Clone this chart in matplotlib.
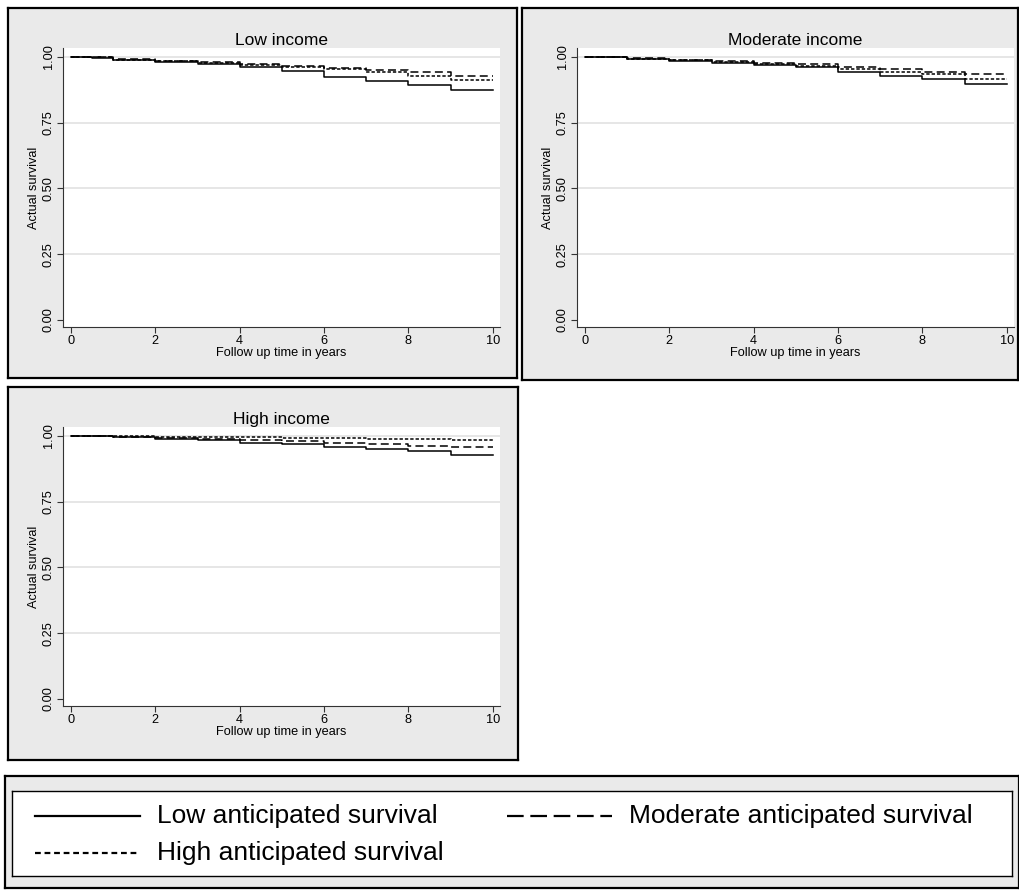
import matplotlib
matplotlib.use("Agg")
import matplotlib.pyplot as plt

plt.rcParams['font.family'] = ['Liberation Sans', 'DejaVu Sans']

W, H = 1019, 892

# follow up times (years) where the survival curves step
times = [0, 0.5, 1, 2, 3, 4, 5, 6, 7, 8, 9, 10]

# Kaplan-Meier estimates per interval
low_inc_low = [1.000, 0.997, 0.988, 0.982, 0.972, 0.960, 0.947, 0.925, 0.910, 0.892, 0.873]
low_inc_mod = [1.000, 0.998, 0.992, 0.986, 0.980, 0.972, 0.965, 0.958, 0.949, 0.942, 0.929]
low_inc_high = [1.000, 0.998, 0.990, 0.984, 0.978, 0.970, 0.962, 0.953, 0.944, 0.928, 0.912]

mod_inc_low = [1.000, 0.998, 0.993, 0.986, 0.978, 0.970, 0.960, 0.944, 0.928, 0.917, 0.896]
mod_inc_mod = [1.000, 0.999, 0.995, 0.989, 0.984, 0.978, 0.972, 0.962, 0.953, 0.944, 0.935]
mod_inc_high = [1.000, 0.999, 0.994, 0.988, 0.982, 0.975, 0.967, 0.956, 0.944, 0.934, 0.918]

high_inc_low = [1.000, 0.999, 0.996, 0.989, 0.983, 0.975, 0.968, 0.959, 0.952, 0.944, 0.928]
high_inc_mod = [1.000, 0.999, 0.997, 0.993, 0.989, 0.984, 0.979, 0.972, 0.968, 0.963, 0.958]
high_inc_high = [1.000, 1.000, 0.998, 0.997, 0.996, 0.995, 0.994, 0.992, 0.990, 0.988, 0.985]

titles = ['Low income', 'Moderate income', 'High income']
series_names = ['Low anticipated survival', 'Moderate anticipated survival',
                'High anticipated survival']
xticks = [0, 2, 4, 6, 8, 10]
yticks = [0.00, 0.25, 0.50, 0.75, 1.00]

panels = [
    (low_inc_low, low_inc_mod, low_inc_high),
    (mod_inc_low, mod_inc_mod, mod_inc_high),
    (high_inc_low, high_inc_mod, high_inc_high),
]

# line patterns: solid, dash, short dash (plot and legend keys)
styles = ['-', (0, (5.2, 2.8)), (0, (2.2, 1.3))]
key_styles = ['-', (0, (7.5, 3.0)), (0, (2.6, 1.7))]

GRAY = '#eaeaea'


def fbox(x0, y0, x1, y1):
    # pixel box -> figure fraction rect
    return [x0 / W, 1 - y1 / H, (x1 - x0) / W, (y1 - y0) / H]


fig = plt.figure(figsize=(W / 100, H / 100), dpi=100)
fig.patch.set_facecolor('white')

# outer boxes (px) and plot areas (px)
outer = [(8, 8, 517, 378), (522, 8, 1018, 380), (8, 387, 518, 760)]
inner = [(63, 48, 500, 327), (577, 48, 1014, 327), (63, 427, 500, 706)]

for k in range(3):
    bg = fig.add_axes(fbox(*outer[k]))
    bg.set_facecolor(GRAY)
    bg.set_xticks([])
    bg.set_yticks([])
    for s in bg.spines.values():
        s.set_linewidth(1.6)
        s.set_color('black')

    ax = fig.add_axes(fbox(*inner[k]))
    ax.set_facecolor('white')
    for v in yticks[1:]:
        ax.axhline(v, color='#e2e2e2', lw=1.2, zorder=0)
    for vals, st in zip(panels[k], styles):
        ax.step(times, vals + [vals[-1]], where='post', color='black', lw=1.1, linestyle=st)
    ax.set_xlim(-0.19, 10.17)
    ax.set_ylim(-0.027, 1.034)
    ax.set_xticks(xticks)
    ax.set_yticks(yticks)
    ax.set_yticklabels(['%.2f' % v for v in yticks], rotation=90, va='center')
    ax.tick_params(labelsize=9.2, length=4, width=0.8, color='#333333', pad=2)
    ax.spines['top'].set_visible(False)
    ax.spines['right'].set_visible(False)
    ax.spines['left'].set_color('#333333')
    ax.spines['bottom'].set_color('#333333')
    ax.set_xlabel('Follow up time in years', fontsize=9.2, labelpad=0)
    ax.set_ylabel('Actual survival', fontsize=9.2, labelpad=2)
    ax.set_title(titles[k], fontsize=12.5, pad=2)

# legend region
lg_bg = fig.add_axes(fbox(5, 776, 1019, 888))
lg_bg.set_facecolor(GRAY)
lg_bg.set_xticks([])
lg_bg.set_yticks([])
for s in lg_bg.spines.values():
    s.set_linewidth(1.6)
    s.set_color('black')

lg = fig.add_axes(fbox(12, 791, 1012, 876))
lg.set_facecolor('white')
lg.set_xticks([])
lg.set_yticks([])
for s in lg.spines.values():
    s.set_linewidth(1.0)
    s.set_color('black')
lg.set_xlim(12, 1012)
lg.set_ylim(876, 791)

entry_pos = [(35, 816), (507, 816), (35, 853)]
for (x0, y0), st, name in zip(entry_pos, key_styles, series_names):
    lg.plot([x0, x0 + 105], [y0, y0], color='black', lw=1.6, linestyle=st)
    lg.text(x0 + 122, y0, name, fontsize=19, va='center', ha='left')

fig.savefig('out.png', dpi=100, facecolor='white')
